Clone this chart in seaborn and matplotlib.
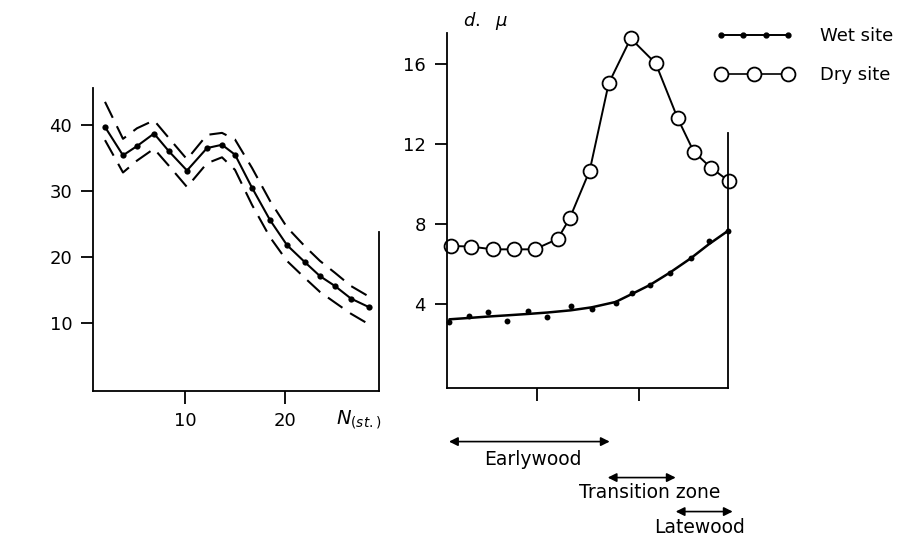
import matplotlib
matplotlib.use("Agg")
import matplotlib.pyplot as plt
from matplotlib.lines import Line2D
from matplotlib.legend_handler import HandlerLine2D
import seaborn as sns
import pandas as pd

sns.set_theme(style="ticks")
plt.rcParams['font.family'] = ['DejaVu Sans']
plt.rcParams['text.color'] = 'black'
plt.rcParams['xtick.color'] = 'black'
plt.rcParams['ytick.color'] = 'black'
plt.rcParams['axes.edgecolor'] = 'black'

# --- left panel: mean curve with dashed confidence band ---
n_st = [2.0, 3.8, 5.2, 6.9, 8.4, 10.2, 12.2, 13.7, 15.0, 16.7, 18.5, 20.2, 22.0, 23.5, 25.0, 26.6, 28.4]
mean_val = [39.7, 35.4, 36.8, 38.7, 36.0, 33.1, 36.5, 37.0, 35.5, 30.5, 25.6, 21.8, 19.2, 17.1, 15.6, 13.7, 12.4]
upper_val = [43.5, 37.9, 39.5, 40.7, 38.0, 34.8, 38.5, 38.8, 37.8, 33.5, 28.5, 24.5, 21.6, 19.4, 17.6, 15.6, 14.0]
lower_val = [37.7, 32.8, 34.6, 36.4, 33.8, 30.6, 34.2, 35.1, 33.2, 27.9, 23.0, 19.4, 16.8, 14.7, 13.1, 11.4, 9.8]

# --- right panel: cell wall thickness across the ring ---
dry_x = [0.4, 2.4, 4.6, 6.7, 8.8, 11.1, 12.3, 14.3, 16.2, 18.4, 20.9, 23.1, 24.7, 26.4, 28.2]
dry_y = [6.9, 6.87, 6.73, 6.73, 6.73, 7.25, 8.28, 10.67, 15.03, 17.28, 16.03, 13.28, 11.62, 10.82, 10.15]

wet_x = [0.27, 2.27, 4.17, 6.07, 8.17, 10.07, 12.4, 14.5, 16.9, 18.53, 20.33, 22.33, 24.4, 26.2, 28.17]
wet_y = [3.12, 3.42, 3.62, 3.17, 3.65, 3.37, 3.9, 3.77, 4.07, 4.57, 4.93, 5.57, 6.28, 7.13, 7.67]
wet_fit = [3.23, 3.3, 3.37, 3.43, 3.5, 3.57, 3.68, 3.83, 4.1, 4.5, 4.95, 5.57, 6.28, 6.98, 7.67]

zone_names = ["Earlywood", "Transition zone", "Latewood"]
zone_start = [0.23, 16.1, 22.9]
zone_end = [16.3, 22.9, 28.6]

left_df = pd.DataFrame({"N": n_st, "mean": mean_val, "upper": upper_val, "lower": lower_val})
dry_df = pd.DataFrame({"x": dry_x, "d": dry_y})
wet_df = pd.DataFrame({"x": wet_x, "d": wet_y, "fit": wet_fit})

fig = plt.figure(figsize=(9.15, 5.4), dpi=100)
ax1 = fig.add_axes([93 / 915, 1 - 391 / 540, 286 / 915, 303 / 540])
ax2 = fig.add_axes([446.7 / 915, 1 - 387.7 / 540, 281 / 915, 354.7 / 540])

# left panel
sns.lineplot(data=left_df, x="N", y="upper", ax=ax1, color="black", lw=1.5, dashes=False,
             linestyle=(0, (8.5, 4.5)))
sns.lineplot(data=left_df, x="N", y="lower", ax=ax1, color="black", lw=1.5, dashes=False,
             linestyle=(0, (8.5, 4.5)))
sns.lineplot(data=left_df, x="N", y="mean", ax=ax1, color="black", lw=1.5,
             marker="o", markersize=4.5, markeredgewidth=0)

ax1.set_xlim(0.8, 29.4)
ax1.set_ylim(-0.3, 45.6)
ax1.set_xticks([10, 20])
ax1.set_yticks([10, 20, 30, 40])
ax1.set_xlabel("")
ax1.set_ylabel("")
ax1.spines["top"].set_visible(False)
ax1.spines["right"].set_bounds(-0.3, 23.8)
ax1.text(25.1, -4.7, r"$N_{(st.)}$", fontsize=14, ha="left", va="center")

# right panel
sns.lineplot(data=wet_df, x="x", y="fit", ax=ax2, color="black", lw=1.8)
sns.scatterplot(data=wet_df, x="x", y="d", ax=ax2, color="black", s=18, linewidth=0, zorder=3)
sns.lineplot(data=dry_df, x="x", y="d", ax=ax2, color="black", lw=1.4,
             marker="o", markersize=10, markerfacecolor="white",
             markeredgecolor="black", markeredgewidth=1.3)

ax2.set_xlim(0, 28.1)
ax2.set_ylim(-0.19, 17.55)
ax2.set_xticks([9.0, 19.27])
ax2.set_xticklabels([])
ax2.set_yticks([4, 8, 12, 16])
ax2.set_xlabel("")
ax2.set_ylabel("")
ax2.spines["top"].set_visible(False)
ax2.spines["right"].set_bounds(-0.19, 12.55)
ax2.text(1.6, 18.15, r"$d.\ \ \mu$", fontsize=13, ha="left", va="center")

for ax in (ax1, ax2):
    for sp in ax.spines.values():
        sp.set_linewidth(1.3)
        sp.set_color("black")
    ax.tick_params(axis="both", length=9, width=1.3, color="black", labelcolor="black",
                   labelsize=13, pad=6)
    for ln in ax.lines:
        ln.set_clip_on(False)
    for col in ax.collections:
        col.set_clip_on(False)

# zone arrows under the right panel
arrow_y = [-2.885, -4.685, -6.385]
label_pos = [(8.63, -3.8), (20.28, -5.45), (25.33, -7.2)]
for name, x0, x1, ay, (lx, ly) in zip(zone_names, zone_start, zone_end, arrow_y, label_pos):
    ax2.annotate("", xy=(x1, ay), xytext=(x0, ay), annotation_clip=False,
                 arrowprops=dict(arrowstyle="<|-|>", color="black", lw=1.2,
                                 mutation_scale=13, shrinkA=0, shrinkB=0))
    ax2.text(lx, ly, name, fontsize=13.5, ha="center", va="center")

# legend
wet_h = Line2D([], [], color="black", lw=1.4, marker="o", markersize=3.5)
dry_h = Line2D([], [], color="black", lw=1.2, marker="o", markersize=10,
               markerfacecolor="white", markeredgewidth=1.3)
fig.legend([wet_h, dry_h], ["Wet site", "Dry site"], loc="upper left",
           bbox_to_anchor=(715.6 / 915, 1 - 27 / 540), frameon=False, fontsize=13,
           handlelength=4.3, handletextpad=1.5, labelspacing=1.17,
           borderpad=0, borderaxespad=0,
           handler_map={wet_h: HandlerLine2D(numpoints=4), dry_h: HandlerLine2D(numpoints=3)})

fig.savefig("out.png", dpi=100)
